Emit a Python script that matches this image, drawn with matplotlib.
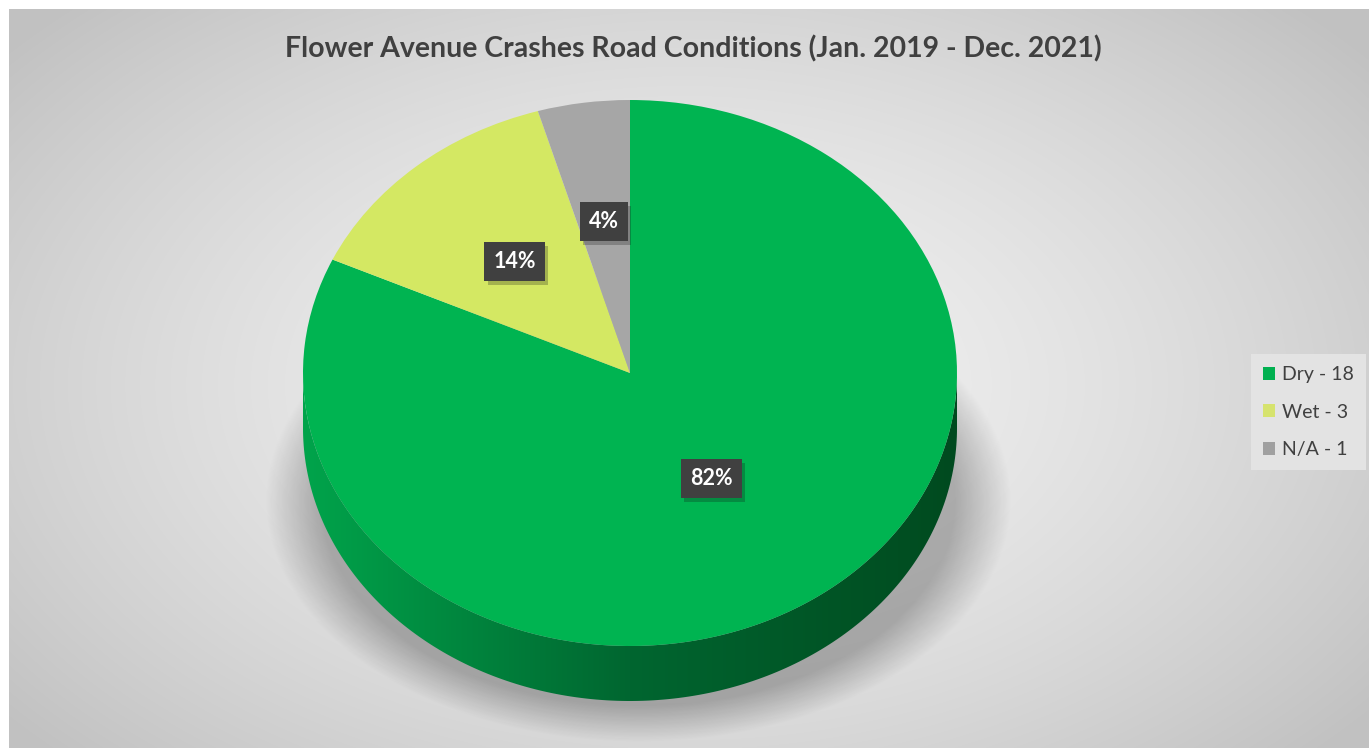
import numpy as np
import matplotlib
matplotlib.use("Agg")
import matplotlib.pyplot as plt
import matplotlib.patheffects as pe
from matplotlib.patches import Polygon, Rectangle

plt.rcParams['font.family'] = ['Lato', 'DejaVu Sans']

title = "Flower Avenue Crashes Road Conditions (Jan. 2019 - Dec. 2021)"
categories = ["Dry", "Wet", "N/A"]
counts = [18, 3, 1]
top_colors = ["#00b451", "#d4e863", "#a6a6a6"]
legend_colors = ["#00b050", "#d6e36e", "#a0a0a0"]

W, H = 1369, 748
fig = plt.figure(figsize=(W / 100, H / 100), dpi=100, facecolor="white")

# background axes in pixel coordinates
bg = fig.add_axes([0, 0, 1, 1])
bg.set_xlim(0, W)
bg.set_ylim(H, 0)
bg.axis("off")

yy, xx = np.mgrid[0:H, 0:W]
r = np.sqrt(((xx - 680) / 900.0) ** 2 + ((yy - 380) / 560.0) ** 2)
g = np.clip(0.95 - 0.20 * r ** 1.5, 0.76, 0.95)
bg.imshow(np.dstack([g, g, g]), extent=(9, W, H, 9), zorder=0, aspect="auto")

# pie geometry (pixels)
cx, cy, a, b, depth = 630, 373, 327, 273, 55

# soft shadow below the pie
d = np.sqrt(((xx - 638) / 352.0) ** 2 + ((yy - 500) / 228.0) ** 2)
alpha = 0.26 * np.clip((1.06 - d) / 0.16, 0, 1)
shadow = np.zeros((H, W, 4))
shadow[..., 3] = alpha
bg.imshow(shadow, extent=(0, W, H, 0), zorder=1, aspect="auto")

# side of the cylinder
t = np.linspace(np.pi, 2 * np.pi, 200)
top_arc = np.column_stack([cx + a * np.cos(t), cy - b * np.sin(t)])
bot_arc = np.column_stack([cx + a * np.cos(t), cy - b * np.sin(t) + depth])
side = Polygon(np.vstack([top_arc, bot_arc[::-1]]), closed=True,
               fc="none", ec="none", zorder=2)
bg.add_patch(side)
gx = np.linspace(0, 1, 400)
c0 = np.array([0x00, 0xa4, 0x4b]) / 255
c1 = np.array([0x00, 0x66, 0x30]) / 255
c2 = np.array([0x00, 0x4a, 0x1f]) / 255
grad = np.where(gx[:, None] < 0.5,
                c0 + (c1 - c0) * (gx[:, None] / 0.5),
                c1 + (c2 - c1) * ((gx[:, None] - 0.5) / 0.5))
im = bg.imshow(grad[None, :, :], extent=(cx - a, cx + a, cy + b + depth, cy),
               zorder=2, aspect="auto")
im.set_clip_path(side)

# top face
ax = fig.add_axes([(cx - a) / W, (H - cy - b) / H, 2 * a / W, 2 * b / H])
wedges, _ = ax.pie(counts, colors=top_colors, startangle=90,
                   counterclock=False, radius=1,
                   wedgeprops=dict(linewidth=0))
ax.set_aspect("auto")
ax.set_xlim(-1, 1)
ax.set_ylim(-1, 1)
ax.axis("off")

# percentages rounded so they add up to 100 (largest remainder)
total = sum(counts)
raw = [100.0 * v / total for v in counts]
pct = [int(np.floor(x)) for x in raw]
order = sorted(range(len(raw)), key=lambda i: raw[i] - pct[i], reverse=True)
for i in order[:100 - sum(pct)]:
    pct[i] += 1

label_dist = [0.46, 0.54, 0.56]
start = 90.0
for val, p, dist in zip(counts, pct, label_dist):
    span = 360.0 * val / total
    mid = np.deg2rad(start - span / 2)
    start -= span
    px, py = dist * np.cos(mid), dist * np.sin(mid)
    txt = ax.text(px, py, f"{p}%", ha="center", va="center",
                  fontsize=15.5, fontweight="bold", color="white",
                  bbox=dict(boxstyle="square,pad=0.42", fc="#404040", ec="none"))
    txt.get_bbox_patch().set_path_effects(
        [pe.SimplePatchShadow(offset=(2.5, -2.5), alpha=0.25), pe.Normal()])

# title
fig.text(693 / W, 1 - 49 / H, title, ha="center", va="center",
         fontsize=20.5, fontweight="bold", color="#404040")

# legend
handles = [Rectangle((0, 0), 1, 1, fc=c, ec="none") for c in legend_colors]
labels = [f"{c} - {n}" for c, n in zip(categories, counts)]
leg = fig.legend(handles, labels, loc="center left",
                 bbox_to_anchor=(1251 / W, 1 - 412 / H), frameon=True,
                 fontsize=14, handlelength=0.65, handleheight=0.65,
                 handletextpad=0.35, labelspacing=1.05, borderpad=0.6,
                 borderaxespad=0, labelcolor="#404040", fancybox=False)
leg.get_frame().set_facecolor("#e3e3e3")
leg.get_frame().set_edgecolor("none")
leg.get_frame().set_alpha(1)

fig.savefig("out.png", dpi=100, facecolor="white")
